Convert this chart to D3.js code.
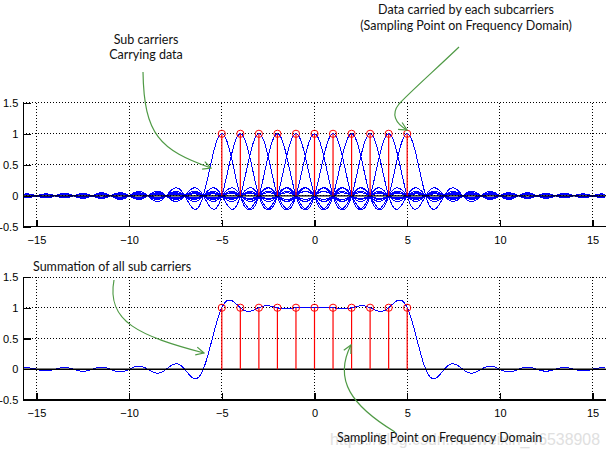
<!DOCTYPE html>
<html><head><meta charset="utf-8">
<script src="https://cdn.jsdelivr.net/npm/d3@7"></script>
<style>
body{margin:0;background:#fff;}
svg{display:block;}
</style></head>
<body>
<svg id="c" width="611" height="458"></svg>
<script>
// ---- data ----
const subcarrierFreqs = [-5,-4,-3,-2,-1,0,1,2,3,4,5];
const subcarrierData  = [1,1,1,1,1,1,1,1,1,1,1];
const xTicks = [-15,-10,-5,0,5,10,15];
const yTicks = [-0.5,0,0.5,1,1.5];
const xDomain = [-5*Math.PI, 5*Math.PI];
const yDomain = [-0.5, 1.5];

const svg = d3.select("#c");
const blue="#0000ff", red="#ff0000", green="#4f9a45";

const x = d3.scaleLinear().domain(xDomain).range([23.3, 605.7]);
const sinc = t => t===0 ? 1 : Math.sin(Math.PI*t)/(Math.PI*t);
const xs = d3.range(xDomain[0], xDomain[1]+1e-9, 0.02);

function panel(y0, y1, mode){
  const y = d3.scaleLinear().domain(yDomain).range([y1, y0]);
  const g = svg.append("g");
  // grid
  g.selectAll(".gx").data(xTicks).join("line")
    .attr("x1",d=>x(d)).attr("x2",d=>x(d)).attr("y1",y0).attr("y2",y1)
    .attr("stroke","#000").attr("stroke-dasharray","1,2").attr("shape-rendering","crispEdges");
  g.selectAll(".gy").data(yTicks).join("line")
    .attr("x1",x.range()[0]).attr("x2",x.range()[1]).attr("y1",d=>y(d)).attr("y2",d=>y(d))
    .attr("stroke","#000").attr("stroke-dasharray","1,2").attr("shape-rendering","crispEdges");
  const line = d3.line().x(d=>x(d[0])).y(d=>y(d[1]));
  if(mode==="each"){
    subcarrierFreqs.forEach((f,i)=>{
      g.append("path").datum(xs.map(t=>[t, subcarrierData[i]*sinc(t-f)]))
        .attr("d",line).attr("fill","none").attr("stroke",blue).attr("stroke-width",1)
        .attr("shape-rendering","crispEdges");
    });
  } else {
    g.append("path").datum(xs.map(t=>[t, d3.sum(subcarrierFreqs,(f,i)=>subcarrierData[i]*sinc(t-f))]))
      .attr("d",line).attr("fill","none").attr("stroke",blue).attr("stroke-width",1)
      .attr("shape-rendering","crispEdges");
  }
  // baseline
  g.append("line").attr("x1",x.range()[0]).attr("x2",x.range()[1]).attr("y1",y(0)).attr("y2",y(0))
    .attr("stroke","#000").attr("stroke-width",1.3);
  // stems
  g.selectAll(".st").data(subcarrierFreqs).join("line")
    .attr("x1",d=>x(d)).attr("x2",d=>x(d)).attr("y1",y(0)).attr("y2",(d,i)=>y(subcarrierData[i]))
    .attr("stroke",red).attr("stroke-width",1.2);
  g.selectAll(".ci").data(subcarrierFreqs).join("circle")
    .attr("cx",d=>x(d)).attr("cy",(d,i)=>y(subcarrierData[i])).attr("r",3.6)
    .attr("fill","none").attr("stroke",red).attr("stroke-width",1);
  // axes
  const xa = d3.axisBottom(x).tickValues(xTicks).tickSize(-7).tickPadding(7).tickFormat(d3.format("d"));
  const gx = g.append("g").attr("transform",`translate(0,${y1})`).call(xa);
  gx.select(".domain").attr("d",`M${x.range()[0]},0H${x.range()[1]}`);
  const ya = d3.axisLeft(y).tickValues(yTicks).tickSize(-8).tickPadding(5).tickFormat(d=>String(d));
  const gy = g.append("g").attr("transform",`translate(${x.range()[0]},0)`).call(ya);
  gy.select(".domain").attr("d",`M0,${y0}V${y1}`);
  [gx,gy].forEach(a=>{
    a.selectAll("text").attr("font-family","'Liberation Sans',Arial,sans-serif").attr("font-size",11).attr("fill","#000");
    a.selectAll("line,path").attr("stroke","#000").attr("stroke-width",1.2).attr("shape-rendering","crispEdges");
  });
  gx.selectAll("text").attr("dy","0.9em");
  return y;
}

panel(102.8, 226.8, "each");
panel(277, 400, "sum");

// watermark (faint, as in the reference)
svg.append("text").attr("x",330).attr("y",445).attr("font-family","'Liberation Sans',Arial,sans-serif")
  .attr("font-size",17).attr("fill","#e0e0e0").attr("textLength",270).attr("lengthAdjust","spacingAndGlyphs")
  .text("https://blog.csdn.net/weixin_46538908");

// annotations
const ann = [
  {t:"Sub carriers", x:146, y:44, a:"middle"},
  {t:"Carrying data", x:146, y:59, a:"middle"},
  {t:"Data carried by each subcarriers", x:466, y:14, a:"middle"},
  {t:"(Sampling Point on Frequency Domain)", x:466, y:30, a:"middle"},
  {t:"Summation of all sub carriers", x:33, y:271, a:"start"},
  {t:"Sampling Point on Frequency Domain", x:337, y:442, a:"start"}
];
svg.selectAll(".ann").data(ann).join("text")
  .attr("x",d=>d.x).attr("y",d=>d.y).attr("text-anchor",d=>d.a)
  .attr("font-family","Lato,'Open Sans',sans-serif").attr("font-size",12.5).attr("fill","#111")
  .text(d=>d.t);

svg.append("defs").append("marker").attr("id","ah").attr("viewBox","0 0 10 10")
  .attr("refX",9).attr("refY",5).attr("markerWidth",10).attr("markerHeight",10)
  .attr("markerUnits","userSpaceOnUse").attr("orient","auto")
  .append("path").attr("d","M1,1L9,5L1,9").attr("fill","none").attr("stroke",green).attr("stroke-width",1.2);

const arrows = [
  "M143,72 C144,135 160,150 211,168",
  "M459,47 C435,70 410,92 399,104 C391,114 395,123 407,130",
  "M114,280 C106,322 140,336 204,353",
  "M395,432 C352,406 333,380 351,345"
];
svg.selectAll(".ar").data(arrows).join("path").attr("d",d=>d)
  .attr("fill","none").attr("stroke",green).attr("stroke-width",1.2).attr("marker-end","url(#ah)");
</script>
</body></html>
